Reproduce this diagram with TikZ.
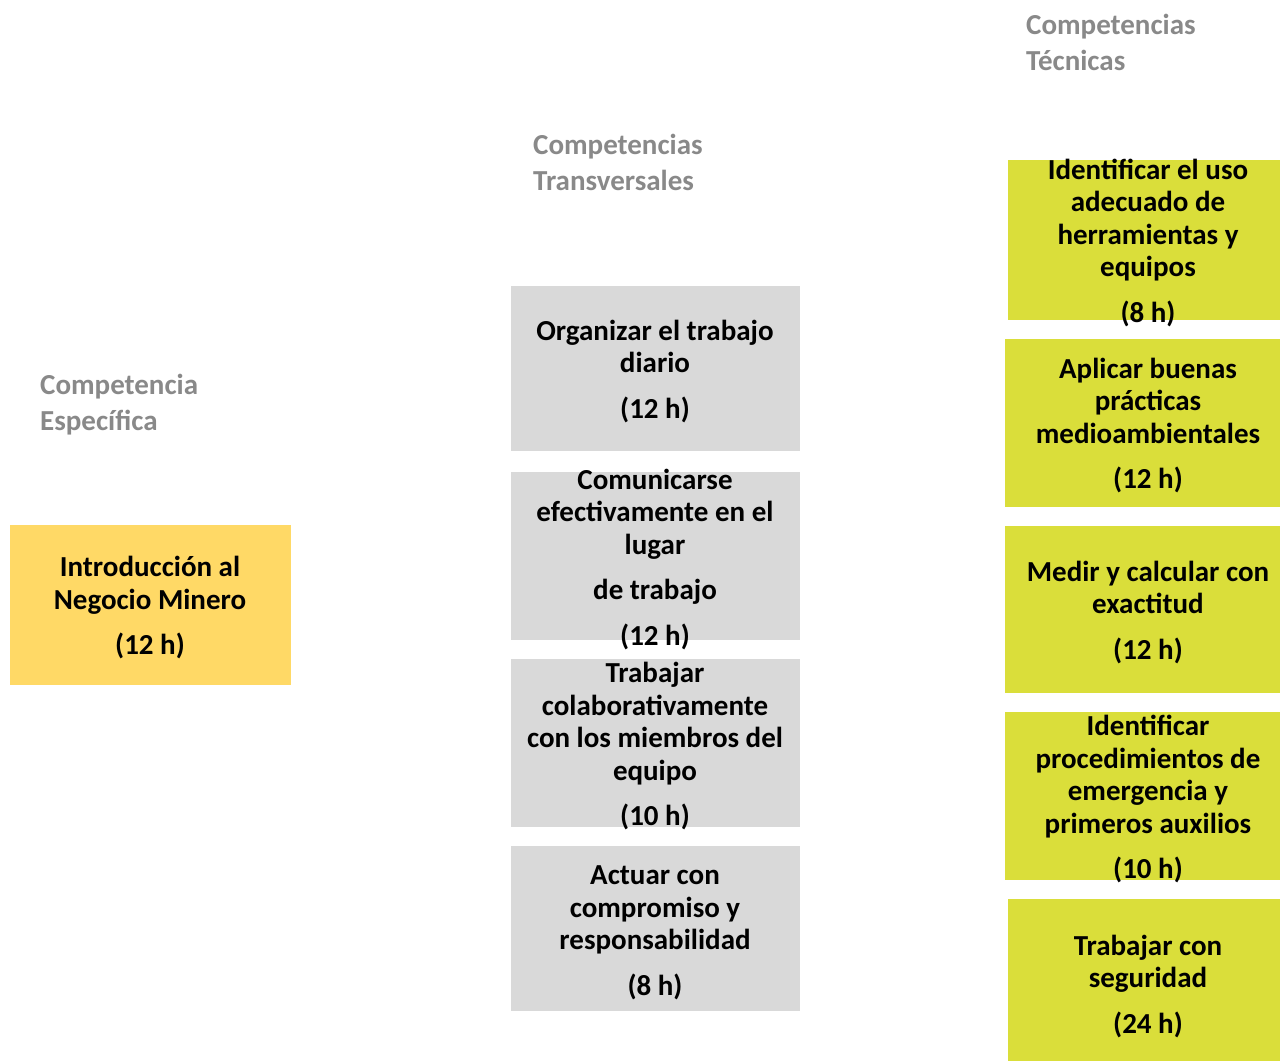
\documentclass[tikz,border=0pt]{standalone}
\usepackage{fontspec}
\setmainfont{Carlito}
\definecolor{boxgray}{HTML}{D9D9D9}
\definecolor{boxyellow}{HTML}{FFD966}
\definecolor{boxgreen}{HTML}{DADE3A}
\definecolor{headgray}{HTML}{898989}
\tikzset{
  x=1pt, y=-1pt,
  box/.style={rectangle, draw=none, inner sep=0pt, anchor=north west},
  graybox/.style={box, fill=boxgray},
  yellowbox/.style={box, fill=boxyellow},
  greenbox/.style={box, fill=boxgreen},
  boxtext/.style={align=center, inner sep=0pt, text=black, font=\bfseries\fontsize{29}{32.5}\selectfont},
  headtext/.style={align=left, inner sep=0pt, anchor=west, text=headgray, font=\bfseries\fontsize{29}{36}\selectfont},
}
\newcommand{\gap}{\\[13pt]}
\begin{document}
\begin{tikzpicture}
\useasboundingbox[fill=white] (0,0) rectangle (1280,1061);

% headers
\node[headtext] (hEsp) at (40,405) {Competencia\\Específica};
\node[headtext] (hTra) at (533,162) {Competencias\\Transversales};
\node[headtext] (hTec) at (1026,42) {Competencias\\Técnicas};

% specific competence
\node[yellowbox, minimum width=281, minimum height=160] (y1) at (10,525) {};
\node[boxtext] (ty1) at (150,609) {\strut Introducción al\\Negocio Minero\gap (12 h)\strut};

% transversal
\node[graybox, minimum width=289, minimum height=165] (g1) at (511,286) {};
\node[graybox, minimum width=289, minimum height=168] (g2) at (511,472) {};
\node[graybox, minimum width=289, minimum height=168] (g3) at (511,659) {};
\node[graybox, minimum width=289, minimum height=165] (g4) at (511,846) {};
\node[boxtext] (tg1) at (655,372.5) {\strut Organizar el trabajo\\diario\gap (12 h)\strut};
\node[boxtext] (tg2) at (655,560.5) {\strut Comunicarse\\efectivamente en el\\lugar\gap de trabajo\gap (12 h)\strut};
\node[boxtext] (tg3) at (655,747.5) {\strut Trabajar\\colaborativamente\\con los miembros del\\equipo\gap (10 h)\strut};
\node[boxtext] (tg4) at (655,933.5) {\strut Actuar con\\compromiso y\\responsabilidad\gap (8 h)\strut};

% technical
\node[greenbox, minimum width=272, minimum height=160] (c1) at (1008,160) {};
\node[greenbox, minimum width=275, minimum height=168] (c2) at (1005,339) {};
\node[greenbox, minimum width=275, minimum height=167] (c3) at (1005,526) {};
\node[greenbox, minimum width=275, minimum height=168] (c4) at (1005,712) {};
\node[greenbox, minimum width=272, minimum height=162] (c5) at (1008,899) {};
\node[boxtext] (tc1) at (1148,244) {\strut Identificar el uso\\adecuado de\\herramientas y\\equipos\gap (8 h)\strut};
\node[boxtext] (tc2) at (1148,427) {\strut Aplicar buenas\\prácticas\\medioambientales\gap (12 h)\strut};
\node[boxtext] (tc3) at (1148,613.5) {\strut Medir y calcular con\\exactitud\gap (12 h)\strut};
\node[boxtext] (tc4) at (1148,800.5) {\strut Identificar\\procedimientos de\\emergencia y\\primeros auxilios\gap (10 h)\strut};
\node[boxtext] (tc5) at (1148,987.5) {\strut Trabajar con\\seguridad\gap (24 h)\strut};
\end{tikzpicture}
\end{document}
